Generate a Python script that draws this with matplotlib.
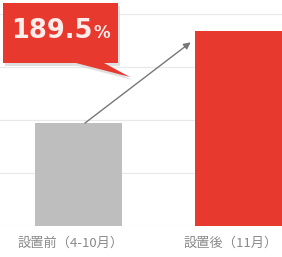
import matplotlib.pyplot as plt
import numpy as np
from matplotlib.patches import Polygon

plt.rcParams['font.family'] = ['Noto Sans CJK JP', 'DejaVu Sans']

categories = ['設置前（4-10月）', '設置後（11月）']
values = [100, 189.5]
bar_colors = ['#bebebe', '#e8392f']
growth_label = '189.5'

W, H = 282, 257
fig = plt.figure(figsize=(W / 100, H / 100), dpi=100)
ax = fig.add_axes([0, 31 / H, 1, 212 / H])

x = np.arange(len(categories))
ax.bar(x, values, width=0.544, color=bar_colors, zorder=2)
ax.set_xlim(-0.49, 1.27)
ax.set_ylim(0, 206)
ax.set_yticks(np.arange(0, 207, 51.5))
ax.grid(axis='y', color='#e9e9e9', linewidth=0.9, zorder=0)
ax.tick_params(left=False, bottom=False, labelleft=False, labelbottom=False)
for s in ax.spines.values():
    s.set_visible(False)

for xi, lab in zip(x, categories):
    ax.text(xi - 0.05, -17, lab, ha='center', va='center', fontsize=9.5,
            color='#8a8a8a')

# arrow from before bar to after bar
ax.annotate('', xy=(0.70, values[1] - 11), xytext=(0.04, values[0]),
            arrowprops=dict(arrowstyle='-|>', color='#777777', lw=1.0,
                            mutation_scale=10, shrinkA=0, shrinkB=0), zorder=3)

# callout box (pixel coords -> figure fraction)
def fpt(px, py):
    return (px / W, 1 - py / H)

pts = [(3, 3), (118, 3), (118, 63), (104, 63), (130, 77), (76, 63), (3, 63)]
shadow = Polygon([fpt(px + 2, py + 3) for px, py in pts], closed=True,
                 transform=fig.transFigure, facecolor='#cccccc', alpha=0.6,
                 edgecolor='none', zorder=4)
box = Polygon([fpt(px, py) for px, py in pts], closed=True,
              transform=fig.transFigure, facecolor='#e8392f', edgecolor='none',
              zorder=5)
fig.patches.extend([shadow, box])

t1 = fig.text(*fpt(11, 38), growth_label, ha='left', va='baseline',
              fontsize=18.5, fontweight='bold', color='#fdecea', family='DejaVu Sans',
              zorder=6)
fig.canvas.draw()
bb = t1.get_window_extent()
fig.text((bb.x1 + 1) / W, 1 - 38 / H, '%', ha='left', va='baseline',
         fontsize=12, fontweight='bold', color='#fdecea', family='DejaVu Sans',
         zorder=6)

fig.savefig('out.png', dpi=100)
